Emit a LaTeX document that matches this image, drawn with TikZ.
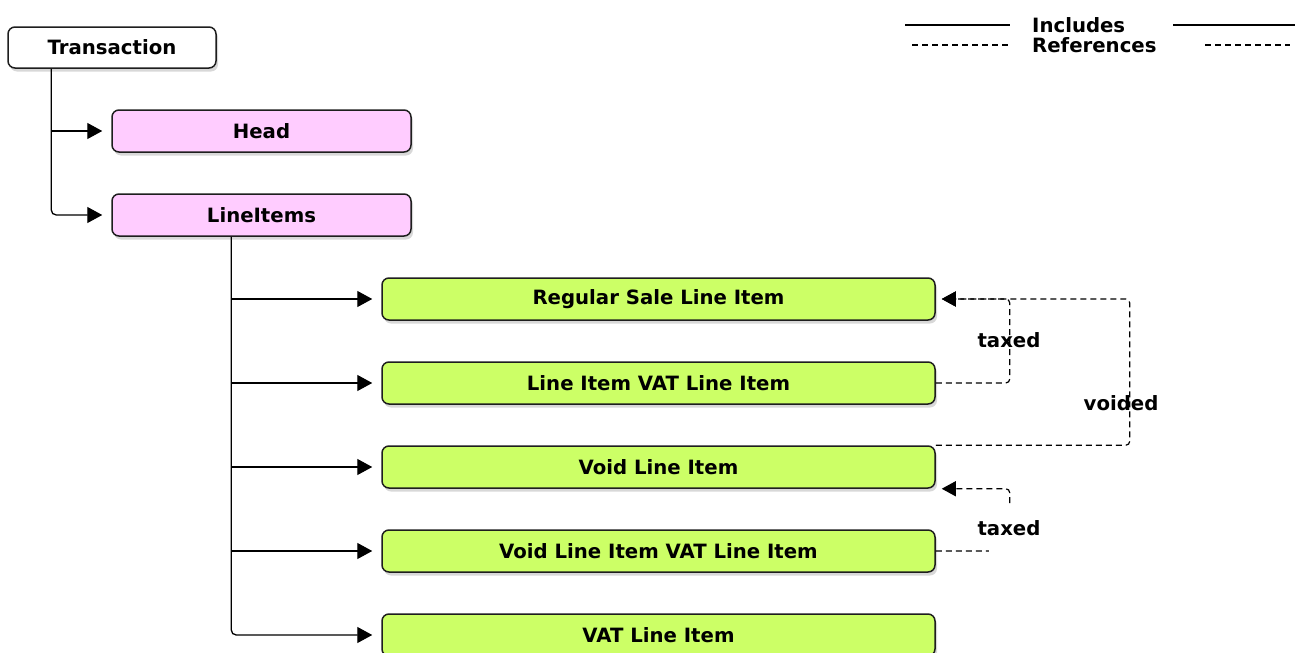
\documentclass[tikz,border=0pt]{standalone}
\usepackage{fontspec}
\setmainfont{DejaVu Sans}
\usetikzlibrary{arrows.meta,shadows}
\definecolor{pinkbox}{RGB}{255,204,255}
\definecolor{greenbox}{RGB}{204,255,102}
\definecolor{edge}{RGB}{30,30,30}
\tikzset{
  box/.style={draw=edge, line width=1.5pt, rounded corners=7pt,
    inner sep=0pt, font=\fontsize{19.7}{22}\selectfont\bfseries,
    drop shadow={opacity=0.3, shadow xshift=2pt, shadow yshift=-3.5pt}},
  rootbox/.style={box, fill=white, minimum width=208pt, minimum height=41pt},
  partbox/.style={box, fill=pinkbox, minimum width=299pt, minimum height=42pt},
  itembox/.style={box, fill=greenbox, minimum width=553pt, minimum height=42pt},
  incl/.style={line width=1.3pt, draw=black, rounded corners=5pt,
    -{Triangle[length=15pt,width=16pt]}, shorten >=9pt},
  refr/.style={line width=1.2pt, draw=black, dash pattern=on 6pt off 4pt,
    rounded corners=4pt, -{Triangle[length=14pt,width=15pt]}, shorten >=6pt},
  lbl/.style={font=\fontsize{19.7}{22}\selectfont\bfseries, inner sep=1pt},
}
\begin{document}
\begin{tikzpicture}[x=1pt,y=-1pt]
\useasboundingbox[fill=white] (0,0) rectangle (1298,653);

% hierarchy boxes
\node[rootbox] (trans) at (112,47.5) {Transaction};
\node[partbox] (head)  at (261.5,131) {Head};
\node[partbox] (items) at (261.5,215) {LineItems};
\node[itembox] (reg)   at (658.5,299) {Regular Sale Line Item};
\node[itembox] (lvat)  at (658.5,383) {Line Item VAT Line Item};
\node[itembox] (void)  at (658.5,467) {Void Line Item};
\node[itembox] (vvat)  at (658.5,551) {Void Line Item VAT Line Item};
\node[itembox] (vat)   at (658.5,635) {VAT Line Item};

% containment connectors from Transaction
\draw[incl] ([xshift=44pt]trans.south west) |- (items.west);
\draw[incl] ([xshift=44pt]trans.south west |- head.west) -- (head.west);

% containment connectors from LineItems
\draw[incl] ([xshift=120pt]items.south west) |- (vat.west);
\draw[incl] ([xshift=120pt]items.south west |- reg.west)  -- (reg.west);
\draw[incl] ([xshift=120pt]items.south west |- lvat.west) -- (lvat.west);
\draw[incl] ([xshift=120pt]items.south west |- void.west) -- (void.west);
\draw[incl] ([xshift=120pt]items.south west |- vvat.west) -- (vvat.west);

% reference connectors
\draw[refr] (void.north east) -- ++(194,0) |- (reg.east);
\draw[refr] (lvat.east) -- ++(74,0) |- (reg.east);
\draw[refr] (vvat.east) -- ++(74,0) |- (void.south east);

% reference labels
\node[lbl] (tx1) at (1009,340) {taxed};
\node[lbl] (vd)  at (1121,403) {voided};
\fill[white] (989,506) rectangle (1030,557);
\node[lbl] (tx2) at (1009,528) {taxed};

% legend
\node[lbl, anchor=west] (inc) at (1031,25) {Includes};
\node[lbl, anchor=west] (ref) at (1031,45) {References};
\draw[line width=1.2pt] (905,25) -- (1010,25);
\draw[line width=1.2pt] (1173,25) -- (1295,25);
\draw[line width=1.2pt, dash pattern=on 6pt off 4pt] (912,45) -- (1010,45);
\draw[line width=1.2pt, dash pattern=on 6pt off 4pt] (1205,45) -- (1290,45);
\end{tikzpicture}
\end{document}
